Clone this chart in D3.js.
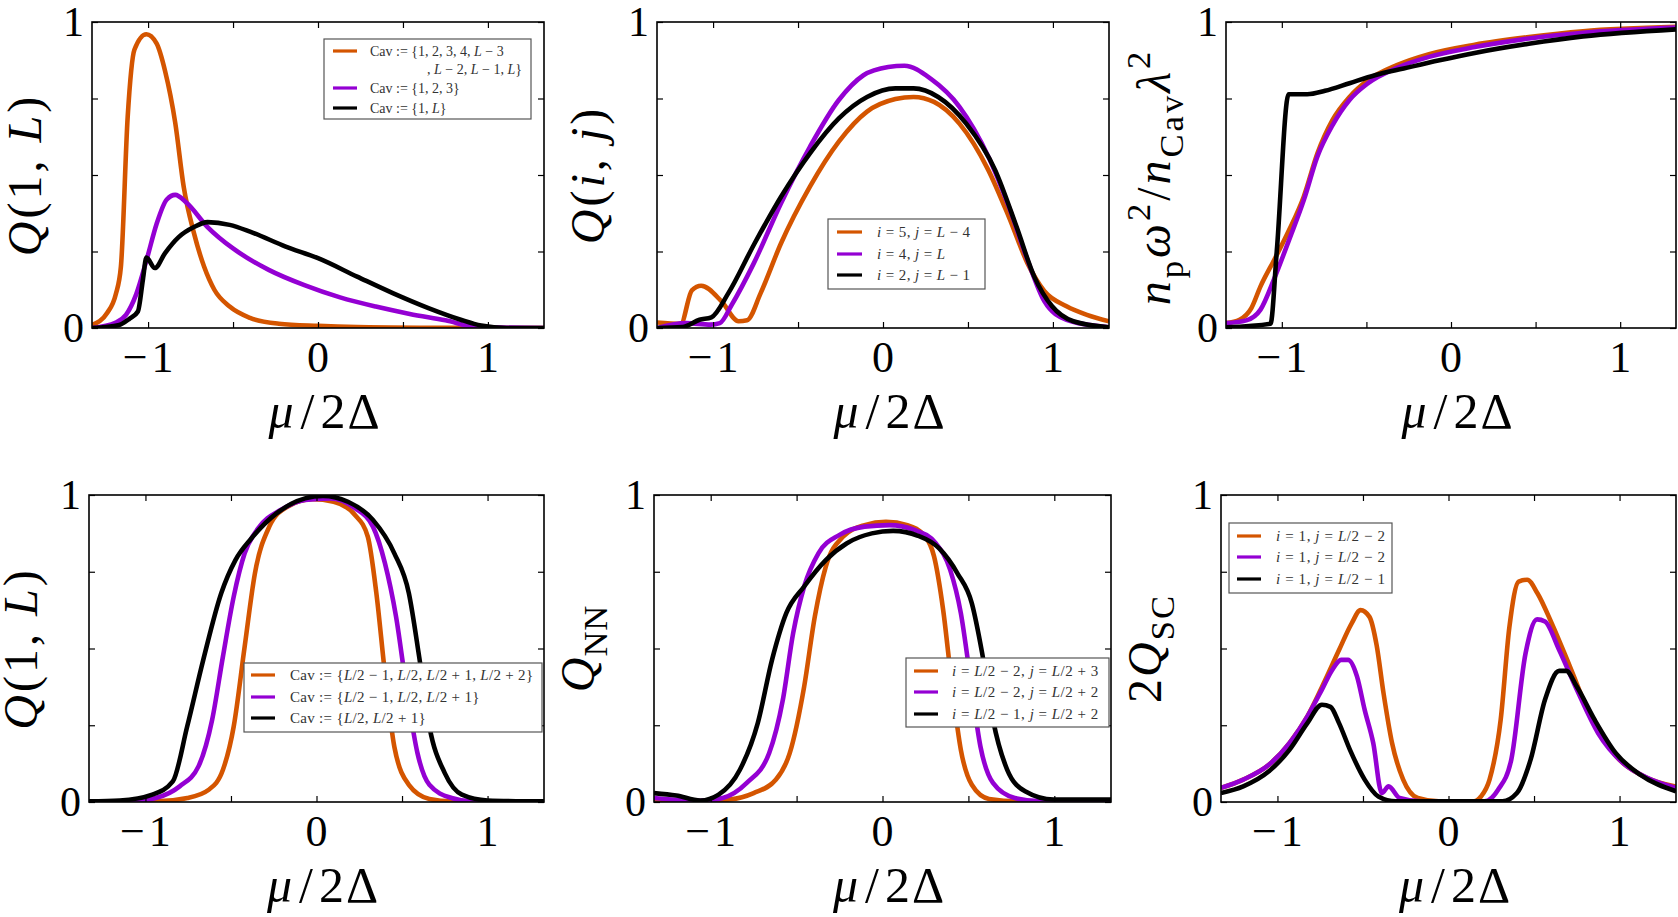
<!DOCTYPE html>
<html>
<head>
<meta charset="utf-8">
<script src="https://cdn.jsdelivr.net/npm/d3@7"></script>
<style>
  body { margin: 0; background: #fff; }
  svg { display: block; }
</style>
</head>
<body>
<svg id="fig" width="1678" height="917"></svg>
<script>
// ---- data ----
const xTicks = [-1, -0.5, 0, 0.5, 1];
const xTickLabels = ["−1", "", "0", "", "1"];
const yTicks = [0, 0.25, 0.5, 0.75, 1];
const yTickLabels = ["0", "", "", "", "1"];

// panel 1: Q(1,L)
const p1Orange = [[-1.33,0.01],[-1.24,0.05],[-1.19,0.11],[-1.16,0.2],[-1.12,0.69],[-1.08,0.91],[-1.01,0.96],[-0.95,0.93],[-0.9,0.84],[-0.84,0.67],[-0.79,0.46],[-0.73,0.31],[-0.67,0.2],[-0.61,0.125],[-0.52,0.07],[-0.4,0.033],[-0.23,0.014],[0,0.007],[0.23,0.003],[0.6,0.001],[1.33,0]];
const p1Purple = [[-1.33,0],[-1.19,0.018],[-1.13,0.043],[-1.07,0.11],[-1.005,0.23],[-0.95,0.34],[-0.89,0.42],[-0.84,0.435],[-0.775,0.41],[-0.65,0.33],[-0.5,0.26],[-0.29,0.19],[-0.08,0.14],[0.13,0.1],[0.34,0.07],[0.54,0.046],[0.75,0.025],[0.94,0.003],[1.33,0]];
const p1Black = [[-1.33,0],[-1.17,0.01],[-1.11,0.03],[-1.06,0.054],[-1.03,0.16],[-1.01,0.23],[-0.96,0.196],[-0.9,0.245],[-0.82,0.297],[-0.73,0.33],[-0.65,0.346],[-0.52,0.337],[-0.4,0.315],[-0.19,0.266],[0,0.228],[0.23,0.168],[0.44,0.114],[0.65,0.065],[0.84,0.027],[0.96,0.008],[1.11,0],[1.33,0]];

// panel 2: Q(i,j)
const p2Orange = [[-1.33,0.018],[-1.19,0.014],[-1.125,0.123],[-1.07,0.138],[-0.95,0.087],[-0.85,0.022],[-0.8,0.025],[-0.72,0.114],[-0.6,0.277],[-0.43,0.462],[-0.26,0.609],[-0.094,0.707],[0.073,0.748],[0.18,0.755],[0.3,0.739],[0.45,0.668],[0.62,0.516],[0.74,0.364],[0.85,0.212],[0.95,0.12],[1.08,0.071],[1.2,0.043],[1.33,0.022]];
const p2Purple = [[-1.33,0],[-1.16,0.016],[-1.015,0.011],[-0.96,0.016],[-0.89,0.076],[-0.76,0.212],[-0.6,0.408],[-0.43,0.592],[-0.26,0.745],[-0.115,0.826],[0.031,0.853],[0.126,0.857],[0.28,0.815],[0.45,0.723],[0.62,0.56],[0.74,0.397],[0.85,0.223],[0.95,0.087],[1.08,0.027],[1.33,0.002]];
const p2Black = [[-1.33,0],[-1.18,0.003],[-1.08,0.027],[-1.01,0.035],[-0.91,0.114],[-0.76,0.272],[-0.6,0.429],[-0.43,0.571],[-0.26,0.685],[-0.094,0.755],[0.073,0.783],[0.18,0.783],[0.325,0.755],[0.49,0.668],[0.66,0.516],[0.785,0.332],[0.89,0.168],[0.995,0.071],[1.12,0.022],[1.33,0.002]];

// panel 3: n_p w^2 / n_Cav lambda^2
const p3Orange = [[-1.33,0.016],[-1.25,0.027],[-1.18,0.065],[-1.126,0.136],[-1.04,0.228],[-0.957,0.32],[-0.87,0.43],[-0.79,0.57],[-0.7,0.68],[-0.6,0.755],[-0.49,0.81],[-0.32,0.859],[-0.13,0.895],[0.14,0.926],[0.46,0.951],[0.78,0.97],[1.33,0.984]];
const p3Purple = [[-1.33,0.016],[-1.21,0.025],[-1.126,0.06],[-1.04,0.168],[-0.957,0.288],[-0.87,0.418],[-0.79,0.56],[-0.7,0.663],[-0.6,0.745],[-0.49,0.8],[-0.32,0.85],[-0.13,0.886],[0.14,0.918],[0.46,0.946],[0.78,0.965],[1.33,0.982]];
const p3Black = [[-1.33,0.002],[-1.067,0.014],[-1.03,0.25],[-0.96,0.764],[-0.85,0.764],[-0.745,0.775],[-0.6,0.8],[-0.45,0.826],[-0.28,0.848],[-0.068,0.875],[0.14,0.899],[0.46,0.929],[0.78,0.953],[1.33,0.976]];

// panel 4: Q(1,L), central cavities
const p4Orange = [[-1.33,0.002],[-0.94,0.002],[-0.755,0.013],[-0.63,0.04],[-0.547,0.105],[-0.484,0.246],[-0.42,0.506],[-0.36,0.745],[-0.276,0.897],[-0.17,0.962],[-0.025,0.986],[0.1,0.978],[0.225,0.935],[0.3,0.864],[0.35,0.68],[0.4,0.42],[0.455,0.18],[0.54,0.056],[0.66,0.01],[0.79,0.002],[1.33,0.002]];
const p4Purple = [[-1.33,0.002],[-1.09,0.002],[-0.94,0.013],[-0.8,0.051],[-0.69,0.116],[-0.61,0.268],[-0.547,0.474],[-0.484,0.669],[-0.42,0.81],[-0.34,0.892],[-0.21,0.951],[-0.067,0.984],[0.08,0.989],[0.225,0.957],[0.33,0.897],[0.4,0.778],[0.465,0.604],[0.53,0.355],[0.59,0.16],[0.66,0.056],[0.79,0.013],[0.91,0.002],[1.33,0.002]];
const p4Black = [[-1.33,0.002],[-1.15,0.005],[-0.96,0.024],[-0.84,0.067],[-0.756,0.246],[-0.662,0.463],[-0.557,0.68],[-0.474,0.788],[-0.38,0.859],[-0.234,0.94],[-0.067,0.989],[0.038,0.997],[0.184,0.978],[0.33,0.919],[0.455,0.81],[0.54,0.68],[0.6,0.474],[0.66,0.246],[0.75,0.094],[0.85,0.024],[1,0.005],[1.33,0.002]];

// panel 5: Q_NN
const p5Orange = [[-1.33,0.008],[-1.08,0.002],[-0.89,0.008],[-0.75,0.029],[-0.62,0.073],[-0.54,0.159],[-0.456,0.376],[-0.394,0.604],[-0.33,0.767],[-0.23,0.864],[-0.104,0.902],[0.02,0.913],[0.145,0.902],[0.25,0.864],[0.3,0.8],[0.353,0.626],[0.405,0.376],[0.456,0.17],[0.52,0.056],[0.62,0.01],[0.79,0.002],[1.33,0.002]];
const p5Purple = [[-1.33,0.013],[-1.06,0.004],[-0.93,0.013],[-0.79,0.062],[-0.66,0.159],[-0.58,0.333],[-0.52,0.55],[-0.456,0.702],[-0.373,0.81],[-0.25,0.87],[-0.104,0.897],[0.04,0.902],[0.187,0.886],[0.31,0.843],[0.394,0.756],[0.456,0.615],[0.51,0.409],[0.57,0.181],[0.643,0.062],[0.77,0.013],[0.93,0.002],[1.33,0.002]];
const p5Black = [[-1.33,0.029],[-1.2,0.021],[-1.06,0.005],[-0.954,0.024],[-0.83,0.105],[-0.726,0.257],[-0.643,0.463],[-0.56,0.615],[-0.456,0.702],[-0.33,0.788],[-0.207,0.843],[-0.062,0.875],[0.062,0.883],[0.207,0.867],[0.33,0.826],[0.436,0.745],[0.52,0.647],[0.58,0.485],[0.643,0.268],[0.726,0.105],[0.83,0.035],[0.996,0.008],[1.33,0.008]];

// panel 6: 2 Q_SC
const p6Orange = [[-1.33,0.046],[-1.2,0.073],[-1.05,0.121],[-0.93,0.192],[-0.825,0.279],[-0.72,0.398],[-0.64,0.495],[-0.566,0.582],[-0.514,0.625],[-0.462,0.603],[-0.42,0.51],[-0.38,0.355],[-0.33,0.192],[-0.265,0.073],[-0.18,0.013],[-0.058,0.002],[0.149,0.002],[0.19,0.018],[0.24,0.073],[0.305,0.268],[0.356,0.57],[0.41,0.718],[0.46,0.724],[0.52,0.68],[0.605,0.58],[0.71,0.441],[0.83,0.279],[0.98,0.149],[1.14,0.084],[1.33,0.05]];
const p6Purple = [[-1.33,0.046],[-1.2,0.073],[-1.05,0.121],[-0.93,0.192],[-0.825,0.279],[-0.74,0.366],[-0.68,0.43],[-0.628,0.463],[-0.587,0.463],[-0.535,0.409],[-0.49,0.3],[-0.44,0.192],[-0.39,0.029],[-0.35,0.051],[-0.286,0.013],[-0.16,0.002],[0.21,0.002],[0.29,0.04],[0.367,0.138],[0.45,0.483],[0.518,0.595],[0.564,0.588],[0.647,0.495],[0.75,0.366],[0.875,0.224],[1.02,0.127],[1.165,0.078],[1.33,0.046]];
const p6Black = [[-1.33,0.029],[-1.2,0.051],[-1.05,0.1],[-0.93,0.17],[-0.825,0.257],[-0.74,0.317],[-0.69,0.31],[-0.64,0.257],[-0.576,0.17],[-0.49,0.073],[-0.41,0.018],[-0.307,0.002],[0.315,0.002],[0.4,0.029],[0.48,0.138],[0.564,0.333],[0.647,0.427],[0.688,0.427],[0.75,0.376],[0.854,0.268],[0.978,0.159],[1.12,0.089],[1.33,0.035]];

// legend labels
const p1Legend = [["Cav := {1, 2, 3, 4, L − 3", ", L − 2, L − 1, L}"], ["Cav := {1, 2, 3}"], ["Cav := {1, L}"]];
const p2Legend = [["i = 5, j = L − 4"], ["i = 4, j = L"], ["i = 2, j = L − 1"]];
const p4Legend = [["Cav := {L/2 − 1, L/2, L/2 + 1, L/2 + 2}"], ["Cav := {L/2 − 1, L/2, L/2 + 1}"], ["Cav := {L/2, L/2 + 1}"]];
const p5Legend = [["i = L/2 − 2, j = L/2 + 3"], ["i = L/2 − 2, j = L/2 + 2"], ["i = L/2 − 1, j = L/2 + 2"]];
const p6Legend = [["i = 1, j = L/2 − 2"], ["i = 1, j = L/2 − 2"], ["i = 1, j = L/2 − 1"]];

const colors = ["#d45500", "#9400d3", "#000000"];
const FONT = "'Liberation Serif', 'DejaVu Serif', serif";

// ---- layout ----
const panels = [
  {box: [92, 22, 544, 328], series: [p1Orange, p1Purple, p1Black], legend: p1Legend,
   leg: {box: [324, 39, 531, 119], rows: [51, 88, 108], sx: [333, 357], tx: 370, cont: 427, contY: 69, fs: 14},
   ylab: [["Q","i"],["(1, ",""],["L","i"],[")",""]], ylx: 41, yls: 3},
  {box: [657, 22, 1109, 328], series: [p2Orange, p2Purple, p2Black], legend: p2Legend,
   leg: {box: [828, 219, 985, 289], rows: [232, 254, 275], sx: [837, 862], tx: 877, fs: 15, ls: 0.4},
   ylab: [["Q","i"],["(",""],["i","i"],[", ",""],["j","i"],[")",""]], ylx: 604, yls: 3},
  {box: [1226, 22, 1676, 328], series: [p3Orange, p3Purple, p3Black], legend: null,
   ylab: [["n","i"],["p","sub"],["ω","i"],["2","sup"],["/",""],["n","i"],["Cav","sub"],["λ","i"],["2","sup"]], ylx: 1170, yls: 3, ylyOff: 2},
  {box: [89, 495, 544, 802], series: [p4Orange, p4Purple, p4Black], legend: p4Legend,
   leg: {box: [244, 663, 542, 732], rows: [675, 697, 718], sx: [251, 275], tx: 290, fs: 15, ls: 0.3},
   ylab: [["Q","i"],["(1, ",""],["L","i"],[")",""]], ylx: 37, yls: 3},
  {box: [654, 495, 1111, 802], series: [p5Orange, p5Purple, p5Black], legend: p5Legend,
   leg: {box: [906, 658, 1109, 727], rows: [671, 692, 714], sx: [914, 938], tx: 952, fs: 15, ls: 0.5},
   ylab: [["Q","i"],["NN","sub"]], ylx: 594, yls: 1},
  {box: [1221, 495, 1676, 802], series: [p6Orange, p6Purple, p6Black], legend: p6Legend,
   leg: {box: [1229, 523, 1392, 593], rows: [536, 557, 579], sx: [1237, 1261], tx: 1276, fs: 15, ls: 0.6},
   ylab: [["2",""],["Q","i"],["SC","sub"]], ylx: 1161, yls: 2}
];

const svg = d3.select("#fig");

// writes segments [text, style, dx] into a text element; style: "", "i", "sub", "sup"
function rich(sel, segs, size) {
  let shift = 0;
  segs.forEach(([s, st, dx]) => {
    const small = st === "sub" || st === "sup";
    const target = st === "sub" ? 0.28 * size : st === "sup" ? -0.42 * size : 0;
    sel.append("tspan")
      .attr("dx", dx || null)
      .attr("dy", target - shift)
      .attr("font-style", st === "i" ? "italic" : "normal")
      .attr("font-size", small ? size * 0.72 : size)
      .text(s);
    shift = target;
  });
}

// split a legend string so that i, j and L come out italic
function mathSegs(str) {
  return str.split(/\b([ijL])\b/).map((s, k) => [s, k % 2 ? "i" : ""]).filter(d => d[0] !== "");
}

panels.forEach((p, pi) => {
  const [x0, y0, x1, y1] = p.box;
  const x = d3.scaleLinear().domain([-1.33, 1.33]).range([x0, x1]);
  const y = d3.scaleLinear().domain([0, 1]).range([y1, y0]);
  const g = svg.append("g");

  g.append("clipPath").attr("id", "clip" + pi)
    .append("rect").attr("x", x0).attr("y", y0).attr("width", x1 - x0).attr("height", y1 - y0);

  const line = d3.line().curve(d3.curveMonotoneX).x(d => x(d[0])).y(d => y(d[1]));
  p.series.forEach((s, si) => {
    g.append("path")
      .datum(s)
      .attr("clip-path", `url(#clip${pi})`)
      .attr("fill", "none")
      .attr("stroke", colors[si])
      .attr("stroke-width", 4.6)
      .attr("stroke-linejoin", "round")
      .attr("d", line);
  });

  // ticks on all four sides, pointing inward
  const tl = 6;
  g.append("g").attr("transform", `translate(0,${y1})`)
    .call(d3.axisBottom(x).tickValues(xTicks).tickSize(-tl).tickFormat(""));
  g.append("g").attr("transform", `translate(0,${y0})`)
    .call(d3.axisTop(x).tickValues(xTicks).tickSize(-tl).tickFormat(""));
  g.append("g").attr("transform", `translate(${x0},0)`)
    .call(d3.axisLeft(y).tickValues(yTicks).tickSize(-tl).tickFormat(""));
  g.append("g").attr("transform", `translate(${x1},0)`)
    .call(d3.axisRight(y).tickValues(yTicks).tickSize(-tl).tickFormat(""));
  g.selectAll(".domain").remove();
  g.selectAll(".tick line").attr("stroke", "#000").attr("stroke-width", 1.2);

  g.append("rect")
    .attr("x", x0).attr("y", y0).attr("width", x1 - x0).attr("height", y1 - y0)
    .attr("fill", "none").attr("stroke", "#000").attr("stroke-width", 1.6);

  // tick labels
  xTicks.forEach((t, k) => {
    if (!xTickLabels[k]) return;
    g.append("text").attr("x", x(t) + (t < 0 ? 2 : 0)).attr("y", y1 + 44)
      .attr("text-anchor", "middle").attr("font-family", FONT).attr("font-size", 44)
      .attr("letter-spacing", t < 0 ? 4 : 0)
      .text(xTickLabels[k]);
  });
  yTicks.forEach((t, k) => {
    if (!yTickLabels[k]) return;
    g.append("text").attr("x", x0 - 8).attr("y", y(t)).attr("dy", "0.34em")
      .attr("text-anchor", "end").attr("font-family", FONT).attr("font-size", 42)
      .text(yTickLabels[k]);
  });

  // axis labels
  const xl = g.append("text").attr("x", (x0 + x1) / 2 + 6).attr("y", y1 + 100)
    .attr("text-anchor", "middle").attr("font-family", FONT);
  rich(xl, [["μ","i"],["/","",7],["2","",6],["Δ","",2]], 50);

  const yl = g.append("text")
    .attr("transform", `translate(${p.ylx},${(y0 + y1) / 2 + (p.ylyOff || 0)}) rotate(-90)`)
    .attr("text-anchor", "middle").attr("dy", "0.35em").attr("font-family", FONT)
    .attr("letter-spacing", p.yls);
  rich(yl, p.ylab, 48);

  // legend
  if (p.legend) {
    const L = p.leg;
    g.append("rect")
      .attr("x", L.box[0]).attr("y", L.box[1])
      .attr("width", L.box[2] - L.box[0]).attr("height", L.box[3] - L.box[1])
      .attr("fill", "#fff").attr("stroke", "#555").attr("stroke-width", 1.2);
    p.legend.forEach((lab, k) => {
      const ry = L.rows[k];
      g.append("line")
        .attr("x1", L.sx[0]).attr("x2", L.sx[1]).attr("y1", ry).attr("y2", ry)
        .attr("stroke", colors[k]).attr("stroke-width", 3.2);
      const t = g.append("text").attr("x", L.tx).attr("y", ry + 4.5)
        .attr("font-family", FONT).attr("fill", "#333").attr("letter-spacing", L.ls || 0);
      rich(t, mathSegs(lab[0]), L.fs);
      if (lab[1]) {
        const t2 = g.append("text").attr("x", L.cont).attr("y", L.contY + 4.5)
          .attr("font-family", FONT).attr("fill", "#333").attr("letter-spacing", L.ls || 0);
        rich(t2, mathSegs(lab[1]), L.fs);
      }
    });
  }
});
</script>
</body>
</html>
